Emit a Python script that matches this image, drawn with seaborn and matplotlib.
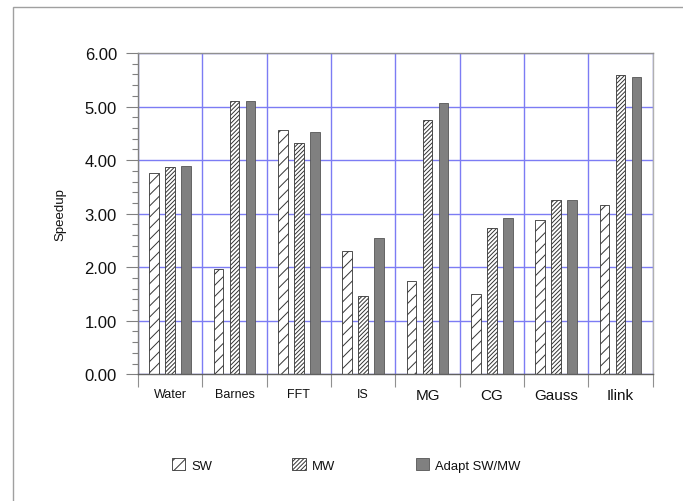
import matplotlib
matplotlib.use("Agg")
import matplotlib.pyplot as plt
import matplotlib.patches as mpatches
from matplotlib.ticker import MultipleLocator, FixedLocator, FormatStrFormatter
import seaborn as sns
import pandas as pd

benchmarks = ["Water", "Barnes", "FFT", "IS", "MG", "CG", "Gauss", "Ilink"]
schemes = ["SW", "MW", "Adapt SW/MW"]
sw = [3.76, 1.96, 4.56, 2.30, 1.74, 1.50, 2.88, 3.16]
mw = [3.87, 5.10, 4.32, 1.46, 4.75, 2.73, 3.25, 5.58]
adapt = [3.89, 5.10, 4.52, 2.54, 5.07, 2.92, 3.25, 5.56]
large_labels = ["MG", "CG", "Gauss", "Ilink"]

rows = []
for name, vals in zip(schemes, [sw, mw, adapt]):
    for b, v in zip(benchmarks, vals):
        rows.append({"bench": b, "scheme": name, "speedup": v})
df = pd.DataFrame(rows)

sns.set_theme(style="white")
plt.rcParams["font.family"] = ["Liberation Sans", "DejaVu Sans"]
plt.rcParams["hatch.linewidth"] = 0.7
plt.rcParams["hatch.color"] = "#222222"

W, H = 683, 502
fig = plt.figure(figsize=(W / 100, H / 100), dpi=100)
ax = fig.add_axes([138 / W, 1 - 375.3 / H, (652.7 - 138) / W, (375.3 - 54) / H])

palette = {"SW": "#ffffff", "MW": "#ffffff", "Adapt SW/MW": "#808080"}
sns.barplot(data=df, x="bench", y="speedup", hue="scheme", order=benchmarks,
            hue_order=schemes, palette=palette, saturation=1, width=0.75,
            gap=0.40, legend=False, ax=ax, zorder=3)

hatches = ["///", "////////", ""]
edges = ["#333333", "#333333", "#555555"]
for cont, h, ec in zip(ax.containers, hatches, edges):
    for p in cont.patches:
        p.set_hatch(h)
        p.set_edgecolor(ec)
        p.set_linewidth(0.6)

ax.set_xlim(-0.5, 7.5)
ax.set_ylim(0, 6)
ax.set_axisbelow(True)

# y axis
ax.yaxis.set_major_locator(MultipleLocator(1))
ax.yaxis.set_minor_locator(MultipleLocator(0.2))
ax.yaxis.set_major_formatter(FormatStrFormatter("%.2f"))
ax.tick_params(axis="y", which="major", length=8.4, width=0.8, color="#808080",
               pad=6.8, labelsize=12, labelcolor="#111111", left=True)
ax.tick_params(axis="y", which="minor", length=4.3, width=0.8, color="#808080", left=True)

# x axis
ax.xaxis.set_minor_locator(FixedLocator([i - 0.5 for i in range(len(benchmarks) + 1)]))
ax.tick_params(axis="x", which="major", length=0, pad=10, labelcolor="#111111", bottom=True)
ax.tick_params(axis="x", which="minor", length=9.5, width=0.8, color="#909090", bottom=True)
for lbl in ax.get_xticklabels():
    lbl.set_fontsize(11 if lbl.get_text() in large_labels else 9)

ax.set_xlabel("")
ax.set_ylabel("Speedup", fontsize=9.5, color="#111111", va="center")
ax.yaxis.set_label_coords((60 - 138) / (652.7 - 138), 0.5)

# grid
gc = "#7c7cf4"
ax.yaxis.grid(True, which="major", color=gc, linewidth=1.0)
ax.xaxis.grid(True, which="minor", color=gc, linewidth=1.0)
ax.xaxis.grid(False, which="major")

for side, col in [("left", "#808080"), ("bottom", "#606060"), ("top", "#909090"), ("right", "#b0b0b0")]:
    ax.spines[side].set_visible(True)
    ax.spines[side].set_color(col)
    ax.spines[side].set_linewidth(1.0)
    ax.spines[side].set_zorder(4)

# outer frame
fig.add_artist(mpatches.Rectangle((12.7 / W, -0.5), 1.0, 1.5 - 8 / H,
                                  transform=fig.transFigure, fill=False,
                                  edgecolor="#a0a0a0", linewidth=1.0))

# legend
fig.legend(handles=list(ax.containers), labels=schemes, ncol=3, frameon=False,
           loc="center left", bbox_to_anchor=(171.7 / W, 1 - 466 / H),
           borderpad=0, borderaxespad=0, fontsize=9.4, handlelength=1.0,
           handleheight=1.05, handletextpad=0.5, columnspacing=6.15,
           labelcolor="#111111")

fig.savefig("out.png", dpi=100)
